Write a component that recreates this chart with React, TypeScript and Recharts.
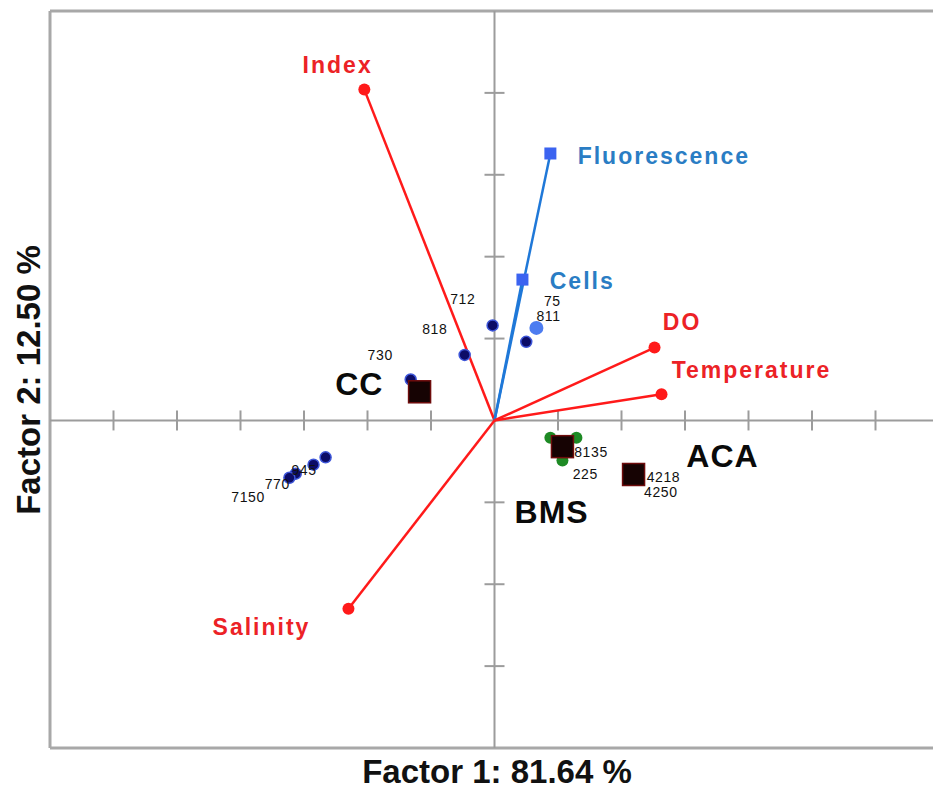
import { ReferenceLine, Scatter, ScatterChart, XAxis, YAxis } from "recharts";

// loading vectors (end points, factor units)
const VECTOR_NAMES = ["Index", "Fluorescence", "Cells", "DO", "Temperature", "Salinity"];
const VECTOR_X = [-2.05, 0.88, 0.44, 2.52, 2.63, -2.3];
const VECTOR_Y = [4.04, 3.26, 1.72, 0.89, 0.32, -2.3];
const VECTOR_LABEL_X = [-2.47, 1.31, 0.87, 2.65, 2.79, -3.67];
const VECTOR_LABEL_Y = [4.34, 3.23, 1.7, 1.2, 0.62, -2.52];
const VECTOR_LABEL_ANCHOR = ["middle", "start", "start", "start", "start", "middle"];
const BLUE_VECTORS = ["Fluorescence", "Cells"];

// sample scores
const NAVY_X = [-0.03, -0.47, -1.32, 0.5, -2.66, -2.85, -3.13, -3.23, 1.07];
const NAVY_Y = [1.16, 0.8, 0.5, 0.96, -0.45, -0.54, -0.65, -0.7, -0.34];
const LIGHT_X = [0.66];
const LIGHT_Y = [1.13];
const GREEN_X = [0.88, 1.29, 1.07];
const GREEN_Y = [-0.21, -0.21, -0.49];

const SAMPLE_LABELS = ["712", "818", "730", "75", "811", "945", "770", "7150", "8135", "225", "4218", "4250"];
const SAMPLE_LABEL_X = [-0.5, -0.94, -1.8, 0.91, 0.85, -3.0, -3.42, -3.88, 1.52, 1.43, 2.66, 2.62];
const SAMPLE_LABEL_Y = [1.48, 1.12, 0.8, 1.46, 1.28, -0.6, -0.78, -0.94, -0.39, -0.66, -0.69, -0.87];

// group centroids
const GROUP_NAMES = ["CC", "BMS", "ACA"];
const GROUP_X = [-1.18, 1.07, 2.19];
const GROUP_Y = [0.35, -0.32, -0.66];
const GROUP_LABEL_X = [-2.13, 0.9, 3.59];
const GROUP_LABEL_Y = [0.44, -1.12, -0.44];

const X_TICKS = [-6, -5, -4, -3, -2, -1, 1, 2, 3, 4, 5, 6];
const Y_TICKS = [-3, -2, -1, 1, 2, 3, 4];

const FONT = "'Liberation Sans', Arial, sans-serif";
const RED = "#ff1a1a";
const BLUE_LINE = "#1f78d8";
const BLUE_TEXT = "#2a7dc4";
const AXIS_GREY = "#9c9c9c";

const zip = (xs: number[], ys: number[]) => xs.map((x, i) => ({ x, y: ys[i] }));

function VectorEnd(props: any) {
  const { cx, cy, payload, blue } = props;
  if (!payload?.end) return <g />;
  if (blue) return <rect x={cx - 6} y={cy - 6} width={12} height={12} fill="#3b63f0" />;
  return <circle cx={cx} cy={cy} r={6} fill={RED} />;
}

function XTick(props: any) {
  const { cx, cy } = props;
  return <line x1={cx} x2={cx} y1={cy - 10} y2={cy + 10} stroke={AXIS_GREY} strokeWidth={2} />;
}

function YTick(props: any) {
  const { cx, cy } = props;
  return <line x1={cx - 10} x2={cx + 10} y1={cy} y2={cy} stroke={AXIS_GREY} strokeWidth={2} />;
}

function TextMark(props: any) {
  const { cx, cy, payload, fill, size, weight, anchor, spacing } = props;
  return (
    <text
      x={cx}
      y={cy}
      fill={fill}
      fontSize={size}
      fontWeight={weight}
      fontFamily={FONT}
      letterSpacing={spacing}
      textAnchor={payload.anchor ?? anchor}
      dominantBaseline="central"
    >
      {payload.text}
    </text>
  );
}

export default function App() {
  const vectorLabels = VECTOR_NAMES.map((text, i) => ({
    x: VECTOR_LABEL_X[i],
    y: VECTOR_LABEL_Y[i],
    text,
    anchor: VECTOR_LABEL_ANCHOR[i],
  }));
  const redLabels = vectorLabels.filter((d) => !BLUE_VECTORS.includes(d.text));
  const blueLabels = vectorLabels.filter((d) => BLUE_VECTORS.includes(d.text));
  const sampleLabels = SAMPLE_LABELS.map((text, i) => ({ x: SAMPLE_LABEL_X[i], y: SAMPLE_LABEL_Y[i], text }));
  const groupLabels = GROUP_NAMES.map((text, i) => ({ x: GROUP_LABEL_X[i], y: GROUP_LABEL_Y[i], text }));

  return (
    <div style={{ position: "absolute", left: 0, top: 0, width: 933, height: 789, overflow: "hidden", background: "#fff" }}>
      <ScatterChart width={960} height={789} margin={{ top: 11, left: 50, right: 21, bottom: 41 }}>
        <XAxis type="number" dataKey="x" domain={[-7, 7]} hide allowDataOverflow />
        <YAxis type="number" dataKey="y" domain={[-4, 5]} hide allowDataOverflow />
        <ReferenceLine x={-7} stroke="#a8a8a8" strokeWidth={3} />
        <ReferenceLine y={5} stroke="#a8a8a8" strokeWidth={3} />
        <ReferenceLine y={-4} stroke="#a8a8a8" strokeWidth={3} />
        <ReferenceLine x={0} stroke={AXIS_GREY} strokeWidth={2} />
        <ReferenceLine y={0} stroke={AXIS_GREY} strokeWidth={2} />
        <Scatter data={X_TICKS.map((x) => ({ x, y: 0 }))} shape={<XTick />} isAnimationActive={false} />
        <Scatter data={Y_TICKS.map((y) => ({ x: 0, y }))} shape={<YTick />} isAnimationActive={false} />
        {VECTOR_NAMES.map((name, i) => {
          const blue = BLUE_VECTORS.includes(name);
          return (
            <Scatter
              key={name}
              data={[
                { x: 0, y: 0, end: false },
                { x: VECTOR_X[i], y: VECTOR_Y[i], end: true },
              ]}
              line={{ stroke: blue ? BLUE_LINE : RED, strokeWidth: 2.5 }}
              shape={<VectorEnd blue={blue} />}
              isAnimationActive={false}
            />
          );
        })}
        <Scatter
          data={zip(GREEN_X, GREEN_Y)}
          shape={(p: any) => <circle cx={p.cx} cy={p.cy} r={6} fill="#1d8a24" />}
          isAnimationActive={false}
        />
        <Scatter
          data={zip(NAVY_X, NAVY_Y)}
          shape={(p: any) => <circle cx={p.cx} cy={p.cy} r={5.5} fill="#0c0c66" stroke="#3d55d8" strokeWidth={1.5} />}
          isAnimationActive={false}
        />
        <Scatter
          data={zip(LIGHT_X, LIGHT_Y)}
          shape={(p: any) => <circle cx={p.cx} cy={p.cy} r={7} fill="#4d7cf0" />}
          isAnimationActive={false}
        />
        <Scatter
          data={zip(GROUP_X, GROUP_Y)}
          shape={(p: any) => (
            <rect x={p.cx - 11} y={p.cy - 11} width={22} height={22} fill="#160303" stroke="#6e0c0c" strokeWidth={1.5} />
          )}
          isAnimationActive={false}
        />
        <Scatter data={redLabels} shape={<TextMark fill="#ec2226" size={23} weight="bold" spacing={2} />} isAnimationActive={false} />
        <Scatter data={blueLabels} shape={<TextMark fill={BLUE_TEXT} size={23} weight="bold" spacing={2} />} isAnimationActive={false} />
        <Scatter data={sampleLabels} shape={<TextMark fill="#111" size={14} weight="normal" anchor="middle" spacing={0.6} />} isAnimationActive={false} />
        <Scatter data={groupLabels} shape={<TextMark fill="#0a0a0a" size={32} weight="bold" anchor="middle" spacing={1} />} isAnimationActive={false} />
      </ScatterChart>
      <svg width={933} height={789} style={{ position: "absolute", left: 0, top: 0, pointerEvents: "none" }}>
        <text x={497} y={771} textAnchor="middle" dominantBaseline="central" fontFamily={FONT} fontWeight="bold" fontSize={33} fill="#111">
          Factor 1: 81.64 %
        </text>
        <text
          x={28}
          y={380}
          textAnchor="middle"
          dominantBaseline="central"
          fontFamily={FONT}
          fontWeight="bold"
          fontSize={33}
          fill="#111"
          transform="rotate(-90 28 380)"
        >
          Factor 2: 12.50 %
        </text>
      </svg>
    </div>
  );
}
